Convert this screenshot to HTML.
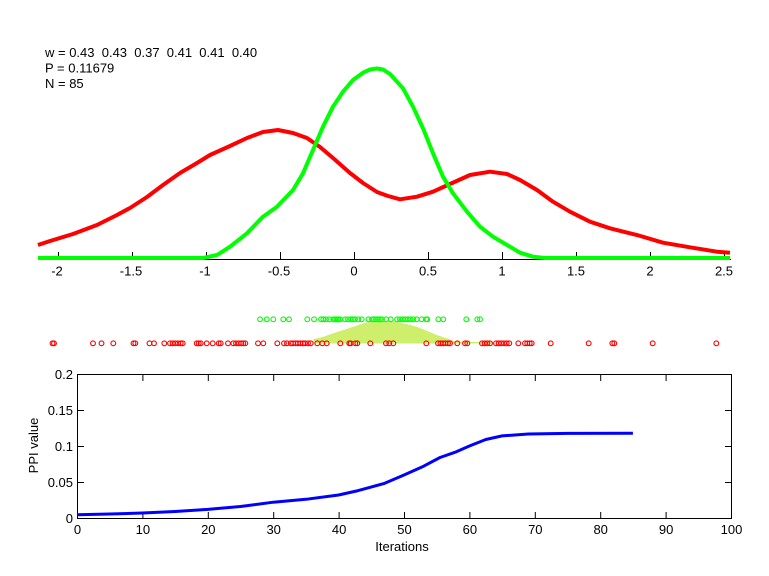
<!DOCTYPE html>
<html><head><meta charset="utf-8"><style>
html,body{margin:0;padding:0;background:#fff;}
svg{display:block;}
text{font-family:"Liberation Sans",Arial,sans-serif;font-size:13px;fill:#000;}
</style></head><body>
<svg width="769" height="576" viewBox="0 0 769 576" xmlns="http://www.w3.org/2000/svg">
<rect width="769" height="576" fill="#fff"/>
<!-- info text -->
<text x="45" y="57" style="white-space:pre">w = 0.43  0.43  0.37  0.41  0.41  0.40</text>
<text x="45" y="72.5">P = 0.11679</text>
<text x="45" y="88">N = 85</text>

<!-- top axis -->
<line x1="38" y1="259.5" x2="731" y2="259.5" stroke="#000" stroke-width="1"/>
<g stroke="#000" stroke-width="1">
<line x1="58.5" y1="252" x2="58.5" y2="259"/>
<line x1="132.5" y1="252" x2="132.5" y2="259"/>
<line x1="206.5" y1="252" x2="206.5" y2="259"/>
<line x1="280.5" y1="252" x2="280.5" y2="259"/>
<line x1="354.5" y1="252" x2="354.5" y2="259"/>
<line x1="428.5" y1="252" x2="428.5" y2="259"/>
<line x1="502.5" y1="252" x2="502.5" y2="259"/>
<line x1="576.5" y1="252" x2="576.5" y2="259"/>
<line x1="650.5" y1="252" x2="650.5" y2="259"/>
<line x1="724.5" y1="252" x2="724.5" y2="259"/>
</g>
<g text-anchor="middle">
<text x="57" y="275.5">-2</text>
<text x="131" y="275.5">-1.5</text>
<text x="205" y="275.5">-1</text>
<text x="279" y="275.5">-0.5</text>
<text x="354" y="275.5">0</text>
<text x="428" y="275.5">0.5</text>
<text x="502" y="275.5">1</text>
<text x="576" y="275.5">1.5</text>
<text x="650" y="275.5">2</text>
<text x="724" y="275.5">2.5</text>
</g>

<!-- curves -->
<polyline fill="none" stroke="#ff0000" stroke-width="4" stroke-linejoin="round"
points="38,245 50,241 73,234 97,225 117,215 130,208 147,197 163,185 180,173 197,163 210,155 230,146 247,138 263,132 278,130 293,133 307,138 320,147 333,158 350,173 363,183 377,192 388,196 400,199.3 417,196.7 433,191.7 450,184 470,175 490,171.7 507,174 520,180 537,190 553,201.7 570,211.7 590,221.7 610,228.3 637,235 663,242.7 690,247.3 717,251.7 730,252.7"/>
<polyline fill="none" stroke="#00ff00" stroke-width="4" stroke-linejoin="round"
points="38,258 203,258 217,255 230,246.7 247,233.3 263,216.7 277,206.7 293,190 303,173.3 313,150 323,126.7 333,106.7 343,91.7 353,80 363,72.7 370,69.5 377,68.5 383,69.5 390,74 403,88.3 413,106.7 423,128.3 433,153.3 443,176.7 453,193.3 467,211.7 480,226.7 493,236.7 507,245 520,252.7 533,256.7 545,258 730,258"/>

<!-- area -->
<polygon fill="#cdef6b" points="313,343.5 313.3,339.3 323.3,336.7 333.3,333.3 343.3,330 353.3,326.7 363.3,323.3 370,322 380,321.7 390,321.7 396.7,322 406.7,324 416.7,326.7 426.7,330.7 436.7,335 446.7,338.3 453.3,340.7 460,341.7 493,342 493,343.5"/>

<!-- green circles -->
<g fill="none" stroke="#00ff00" stroke-width="1.1">
<circle cx="260" cy="319.3" r="2.4"/><circle cx="266.7" cy="319.3" r="2.4"/><circle cx="273.3" cy="319.3" r="2.4"/><circle cx="283.3" cy="319.3" r="2.4"/><circle cx="289" cy="319.3" r="2.4"/><circle cx="307.3" cy="319.3" r="2.4"/><circle cx="314" cy="319.3" r="2.4"/><circle cx="321" cy="319.3" r="2.4"/><circle cx="323.3" cy="319.3" r="2.4"/><circle cx="326" cy="319.3" r="2.4"/><circle cx="329.3" cy="319.3" r="2.4"/><circle cx="333.3" cy="319.3" r="2.4"/><circle cx="335" cy="319.3" r="2.4"/><circle cx="336.7" cy="319.3" r="2.4"/><circle cx="338.3" cy="319.3" r="2.4"/><circle cx="340" cy="319.3" r="2.4"/><circle cx="345" cy="319.3" r="2.4"/><circle cx="348" cy="319.3" r="2.4"/><circle cx="351" cy="319.3" r="2.4"/><circle cx="353" cy="319.3" r="2.4"/><circle cx="355" cy="319.3" r="2.4"/><circle cx="358.3" cy="319.3" r="2.4"/><circle cx="361.7" cy="319.3" r="2.4"/><circle cx="368.5" cy="319.3" r="2.4"/><circle cx="372" cy="319.3" r="2.4"/><circle cx="374" cy="319.3" r="2.4"/><circle cx="376" cy="319.3" r="2.4"/><circle cx="378" cy="319.3" r="2.4"/><circle cx="380" cy="319.3" r="2.4"/><circle cx="382" cy="319.3" r="2.4"/><circle cx="386" cy="319.3" r="2.4"/><circle cx="390.7" cy="319.3" r="2.4"/><circle cx="397" cy="319.3" r="2.4"/><circle cx="400" cy="319.3" r="2.4"/><circle cx="402.7" cy="319.3" r="2.4"/><circle cx="405.3" cy="319.3" r="2.4"/><circle cx="408" cy="319.3" r="2.4"/><circle cx="410.5" cy="319.3" r="2.4"/><circle cx="413.3" cy="319.3" r="2.4"/><circle cx="416.7" cy="319.3" r="2.4"/><circle cx="421.7" cy="319.3" r="2.4"/><circle cx="426" cy="319.3" r="2.4"/><circle cx="427.3" cy="319.3" r="2.4"/><circle cx="438.3" cy="319.3" r="2.4"/><circle cx="443.3" cy="319.3" r="2.4"/><circle cx="466.3" cy="319.3" r="2.4"/><circle cx="477.3" cy="319.3" r="2.4"/><circle cx="480" cy="319.3" r="2.4"/>
</g>

<!-- red circles -->
<g fill="none" stroke="#ff0000" stroke-width="1.1">
<circle cx="52.5" cy="343.3" r="2.4"/><circle cx="54" cy="343.3" r="2.4"/><circle cx="93" cy="343.3" r="2.4"/><circle cx="101.5" cy="343.3" r="2.4"/><circle cx="113.3" cy="343.3" r="2.4"/><circle cx="133.5" cy="343.3" r="2.4"/><circle cx="135.3" cy="343.3" r="2.4"/><circle cx="149.5" cy="343.3" r="2.4"/><circle cx="154" cy="343.3" r="2.4"/><circle cx="164.3" cy="343.3" r="2.4"/><circle cx="170" cy="343.3" r="2.4"/><circle cx="172.7" cy="343.3" r="2.4"/><circle cx="175.3" cy="343.3" r="2.4"/><circle cx="178" cy="343.3" r="2.4"/><circle cx="180.7" cy="343.3" r="2.4"/><circle cx="182.7" cy="343.3" r="2.4"/><circle cx="196.7" cy="343.3" r="2.4"/><circle cx="198.7" cy="343.3" r="2.4"/><circle cx="200.7" cy="343.3" r="2.4"/><circle cx="206.7" cy="343.3" r="2.4"/><circle cx="212.7" cy="343.3" r="2.4"/><circle cx="218.7" cy="343.3" r="2.4"/><circle cx="220.7" cy="343.3" r="2.4"/><circle cx="228" cy="343.3" r="2.4"/><circle cx="233.3" cy="343.3" r="2.4"/><circle cx="236" cy="343.3" r="2.4"/><circle cx="238.7" cy="343.3" r="2.4"/><circle cx="241.3" cy="343.3" r="2.4"/><circle cx="243.3" cy="343.3" r="2.4"/><circle cx="245.3" cy="343.3" r="2.4"/><circle cx="258" cy="343.3" r="2.4"/><circle cx="263.3" cy="343.3" r="2.4"/><circle cx="277.3" cy="343.3" r="2.4"/><circle cx="284" cy="343.3" r="2.4"/><circle cx="287" cy="343.3" r="2.4"/><circle cx="290.7" cy="343.3" r="2.4"/><circle cx="293" cy="343.3" r="2.4"/><circle cx="295.5" cy="343.3" r="2.4"/><circle cx="298" cy="343.3" r="2.4"/><circle cx="300.5" cy="343.3" r="2.4"/><circle cx="303" cy="343.3" r="2.4"/><circle cx="305" cy="343.3" r="2.4"/><circle cx="308" cy="343.3" r="2.4"/><circle cx="310.7" cy="343.3" r="2.4"/><circle cx="317.3" cy="343.3" r="2.4"/><circle cx="322.3" cy="343.3" r="2.4"/><circle cx="326.7" cy="343.3" r="2.4"/><circle cx="340.3" cy="343.3" r="2.4"/><circle cx="349.3" cy="343.3" r="2.4"/><circle cx="350.7" cy="343.3" r="2.4"/><circle cx="355.3" cy="343.3" r="2.4"/><circle cx="357.3" cy="343.3" r="2.4"/><circle cx="370.3" cy="343.3" r="2.4"/><circle cx="386" cy="343.3" r="2.4"/><circle cx="389.3" cy="343.3" r="2.4"/><circle cx="393.3" cy="343.3" r="2.4"/><circle cx="426.3" cy="343.3" r="2.4"/><circle cx="438" cy="343.3" r="2.4"/><circle cx="440.5" cy="343.3" r="2.4"/><circle cx="443" cy="343.3" r="2.4"/><circle cx="445.5" cy="343.3" r="2.4"/><circle cx="448" cy="343.3" r="2.4"/><circle cx="450" cy="343.3" r="2.4"/><circle cx="457.3" cy="343.3" r="2.4"/><circle cx="465" cy="343.3" r="2.4"/><circle cx="467.3" cy="343.3" r="2.4"/><circle cx="482" cy="343.3" r="2.4"/><circle cx="484.7" cy="343.3" r="2.4"/><circle cx="487.3" cy="343.3" r="2.4"/><circle cx="490" cy="343.3" r="2.4"/><circle cx="496" cy="343.3" r="2.4"/><circle cx="498.7" cy="343.3" r="2.4"/><circle cx="501.3" cy="343.3" r="2.4"/><circle cx="504" cy="343.3" r="2.4"/><circle cx="506.7" cy="343.3" r="2.4"/><circle cx="509.3" cy="343.3" r="2.4"/><circle cx="518.3" cy="343.3" r="2.4"/><circle cx="525" cy="343.3" r="2.4"/><circle cx="527.3" cy="343.3" r="2.4"/><circle cx="529.7" cy="343.3" r="2.4"/><circle cx="531.7" cy="343.3" r="2.4"/><circle cx="550.7" cy="343.3" r="2.4"/><circle cx="588.7" cy="343.3" r="2.4"/><circle cx="612.3" cy="343.3" r="2.4"/><circle cx="614.3" cy="343.3" r="2.4"/><circle cx="652.7" cy="343.3" r="2.4"/><circle cx="716.3" cy="343.3" r="2.4"/>
</g>

<!-- bottom plot -->
<rect x="77.5" y="374.5" width="654" height="144" fill="none" stroke="#000" stroke-width="1"/>
<g stroke="#000" stroke-width="1">
<line x1="142.9" y1="518" x2="142.9" y2="512"/><line x1="142.9" y1="375" x2="142.9" y2="381"/>
<line x1="208.3" y1="518" x2="208.3" y2="512"/><line x1="208.3" y1="375" x2="208.3" y2="381"/>
<line x1="273.7" y1="518" x2="273.7" y2="512"/><line x1="273.7" y1="375" x2="273.7" y2="381"/>
<line x1="339.1" y1="518" x2="339.1" y2="512"/><line x1="339.1" y1="375" x2="339.1" y2="381"/>
<line x1="404.5" y1="518" x2="404.5" y2="512"/><line x1="404.5" y1="375" x2="404.5" y2="381"/>
<line x1="469.9" y1="518" x2="469.9" y2="512"/><line x1="469.9" y1="375" x2="469.9" y2="381"/>
<line x1="535.3" y1="518" x2="535.3" y2="512"/><line x1="535.3" y1="375" x2="535.3" y2="381"/>
<line x1="600.7" y1="518" x2="600.7" y2="512"/><line x1="600.7" y1="375" x2="600.7" y2="381"/>
<line x1="666.1" y1="518" x2="666.1" y2="512"/><line x1="666.1" y1="375" x2="666.1" y2="381"/>
<line x1="78" y1="410.5" x2="84" y2="410.5"/><line x1="731" y1="410.5" x2="725" y2="410.5"/>
<line x1="78" y1="446.5" x2="84" y2="446.5"/><line x1="731" y1="446.5" x2="725" y2="446.5"/>
<line x1="78" y1="482.5" x2="84" y2="482.5"/><line x1="731" y1="482.5" x2="725" y2="482.5"/>
</g>
<g text-anchor="end">
<text x="73" y="379">0.2</text>
<text x="73" y="415">0.15</text>
<text x="73" y="451">0.1</text>
<text x="73" y="487">0.05</text>
<text x="73" y="523">0</text>
</g>
<g text-anchor="middle">
<text x="77.5" y="534">0</text>
<text x="142.9" y="534">10</text>
<text x="208.3" y="534">20</text>
<text x="273.7" y="534">30</text>
<text x="339.1" y="534">40</text>
<text x="404.5" y="534">50</text>
<text x="469.9" y="534">60</text>
<text x="535.3" y="534">70</text>
<text x="600.7" y="534">80</text>
<text x="666.1" y="534">90</text>
<text x="731.5" y="534">100</text>
<text x="402" y="551">Iterations</text>
<text x="0" y="0" transform="translate(38,445.5) rotate(-90)">PPI value</text>
</g>
<polyline fill="none" stroke="#0000ff" stroke-width="3" stroke-linejoin="round"
points="77,514.8 109.7,514 142.4,513 175.1,511.5 207.8,509.4 240.5,506.5 273.2,502.2 305.9,499.3 338.6,495 358.2,490.6 384.4,483.4 404,475 423.6,466.2 440,457.5 456.3,451.8 469.4,446 485.8,439.5 502.1,435.9 528.3,434 567.5,433.4 632.9,433.3"/>
</svg>
</body></html>
